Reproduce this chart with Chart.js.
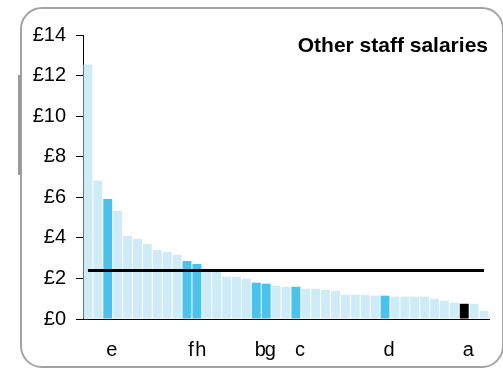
<!DOCTYPE html>
<html>
<head>
<meta charset="utf-8">
<script src="https://cdn.jsdelivr.net/npm/chart.js@4/dist/chart.umd.min.js"></script>
<style>
    html, body { margin: 0; padding: 0; background: #fff; }
    #wrap { position: relative; width: 503px; height: 368px; overflow: hidden; }
    #frame {
        position: absolute; left: 20px; top: 7px; width: 484px; height: 361px;
        box-sizing: border-box; border: 2px solid #a3a3a3; border-radius: 22px;
    }
    #mark {
        position: absolute; left: 18px; top: 75px; width: 3px; height: 100px; background: #9a9a9a;
    }
    #title {
        position: absolute; right: 15px; top: 34px;
        font: bold 21px Arial, "Liberation Sans", sans-serif; line-height: 21px; color: #000;
    }
    canvas { position: absolute; left: 0; top: 0; }
</style>
</head>
<body>
<div id="wrap">
    <div id="frame"></div>
    <div id="mark"></div>
    <canvas id="salaryChart" width="503" height="368"></canvas>
    <div id="title">Other staff salaries</div>
</div>
<script>
// Подписи школ под столбцами (пустые - без подписи)
const schools = ['', '', 'e', '', '', '', '', '', '', '', 'f', 'h', '', '', '', '', '', 'b', 'g', '', '',
    'c', '', '', '', '', '', '', '', '', 'd', '', '', '', '', '', '', '', 'a', '', ''];

// Стоимость на ученика, £
const costs = [12.55, 6.81, 5.92, 5.33, 4.09, 3.95, 3.70, 3.40, 3.31, 3.16, 2.86, 2.71, 2.47, 2.45,
    2.09, 2.08, 1.99, 1.79, 1.74, 1.64, 1.59, 1.59, 1.49, 1.49, 1.44, 1.39, 1.20, 1.20, 1.20, 1.15,
    1.15, 1.10, 1.10, 1.10, 1.10, 1.00, 0.90, 0.80, 0.75, 0.75, 0.40];

const averageCost = 2.39;
const highlighted = ['e', 'f', 'h', 'b', 'g', 'c', 'd'];
const ownSchool = 'a';
const yTicks = [0, 2, 4, 6, 8, 10, 12, 14];

Chart.defaults.font.family = 'Arial, "Liberation Sans", sans-serif';
Chart.defaults.font.size = 20;
Chart.defaults.color = '#000';

const barColours = schools.map(s => {
    if (s === ownSchool) return '#000000';
    if (highlighted.includes(s)) return '#4bc2ec';
    return '#cdecf8';
});

new Chart(document.getElementById('salaryChart'), {
    data: {
        labels: schools,
        datasets: [{
            type: 'line',
            data: schools.map(() => averageCost),
            borderColor: '#000',
            borderWidth: 3,
            pointRadius: 0,
            order: 0
        }, {
            type: 'bar',
            data: costs,
            backgroundColor: barColours,
            barPercentage: 0.9,
            categoryPercentage: 1.0,
            order: 1
        }]
    },
    options: {
        responsive: false,
        animation: false,
        layout: { padding: { left: 0, right: 14, top: 35, bottom: 0 } },
        plugins: { legend: { display: false }, tooltip: { enabled: false } },
        scales: {
            x: {
                afterFit: axis => { axis.height = 49; },
                grid: { display: false },
                border: { color: '#000', width: 1 },
                ticks: { autoSkip: false, maxRotation: 0, padding: 11, labelOffset: 4 }
            },
            y: {
                min: 0,
                max: 14,
                afterBuildTicks: axis => { axis.ticks = yTicks.map(v => ({ value: v })); },
                afterFit: axis => { axis.width = 83; },
                grid: { drawOnChartArea: false, color: '#000', tickLength: 7 },
                border: { color: '#000', width: 1 },
                ticks: { padding: 10, callback: v => '£' + v }
            }
        }
    }
});
</script>
</body>
</html>
